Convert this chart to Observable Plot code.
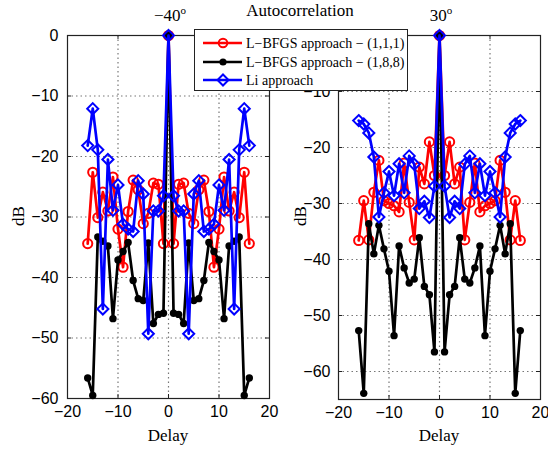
<!DOCTYPE html>
<html>
<head>
<meta charset="utf-8">
<script src="https://cdn.jsdelivr.net/npm/d3@7"></script>
<script src="https://cdn.jsdelivr.net/npm/@observablehq/plot@0.6"></script>
<style>
  html, body { margin: 0; padding: 0; background: #fff; }
  #wrap { position: relative; width: 548px; height: 455px; overflow: hidden; }
  .panel { position: absolute; top: 0; }
  .serif { font-family: "Liberation Serif", "Times New Roman", serif; color: #000; position: absolute; white-space: nowrap; }
  .title { font-size: 17px; left: 300px; top: 1px; transform: translateX(-50%); }
  .ptitle { font-size: 17px; top: 6px; transform: translateX(-50%); }
  .ptitle sup { font-size: 11px; vertical-align: 0; position: relative; top: -7px; }
  .xlabel { font-size: 17px; top: 426px; transform: translateX(-50%); }
  .ylabel { font-size: 17px; top: 216px; transform: translate(-50%, -50%) rotate(-90deg); }
  #legend { position: absolute; left: 194px; top: 29px; }
</style>
</head>
<body>
<div id="wrap">
  <div class="serif title">Autocorrelation</div>
</div>
<script>
// Delay axis (lags)
const delays = [-16,-15,-14,-13,-12,-11,-10,-9,-8,-7,-6,-5,-4,-3,-2,-1,0,1,2,3,4,5,6,7,8,9,10,11,12,13,14,15,16];

// Left panel: -40°
const leftRed   = [-34.4,-22.6,-30.1,-25.9,-29.0,-23.4,-32.0,-38.3,-29.1,-23.9,-25.5,-31.1,-29.4,-24.4,-24.6,-34.4,0,
                   -34.4,-24.6,-24.4,-29.4,-31.1,-25.5,-23.9,-29.1,-38.3,-32.0,-23.4,-29.0,-25.9,-30.1,-22.6,-34.4];
const leftBlack = [-56.6,-59.5,-33.3,-34.0,-34.8,-46.8,-37.1,-35.7,-34.2,-40.5,-43.5,-43.8,-34.3,-47.6,-46.1,-45.9,0,
                   -45.9,-46.1,-47.6,-34.3,-43.8,-43.5,-40.5,-34.2,-35.7,-37.1,-46.8,-34.8,-34.0,-33.3,-59.5,-56.6];
const leftBlue  = [-18.2,-12.1,-18.9,-45.2,-20.5,-28.9,-24.7,-31.2,-32.0,-32.4,-24.0,-26.2,-49.3,-29.0,-29.0,-26.5,0,
                   -26.5,-29.0,-29.0,-49.3,-26.2,-24.0,-32.4,-32.0,-31.2,-24.7,-28.9,-20.5,-45.2,-18.9,-12.1,-18.2];

// Right panel: 30°
const rightRed   = [-36.6,-29.5,-36.5,-28.0,-22.3,-29.5,-30.0,-30.4,-31.5,-22.8,-29.8,-36.5,-23.5,-26.5,-19.0,-25.0,0,
                    -25.0,-19.0,-26.5,-23.5,-36.5,-29.8,-22.8,-31.5,-30.4,-30.0,-29.5,-22.3,-28.0,-36.5,-29.5,-36.6];
const rightBlack = [-52.7,-63.9,-33.6,-39.0,-33.9,-38.1,-42.1,-53.6,-37.6,-41.5,-44.2,-43.5,-36.1,-44.8,-46.3,-56.5,0,
                    -56.5,-46.3,-44.8,-36.1,-43.5,-44.2,-41.5,-37.6,-53.6,-42.1,-38.1,-33.9,-39.0,-33.6,-63.9,-52.7];
const rightBlue  = [-15.2,-15.8,-17.4,-21.7,-32.4,-28.1,-24.3,-28.6,-22.9,-28.1,-21.5,-23.0,-30.9,-29.6,-32.5,-26.9,0,
                    -26.9,-32.5,-29.6,-30.9,-23.0,-21.5,-28.1,-22.9,-28.6,-24.3,-28.1,-32.4,-21.7,-17.4,-15.8,-15.2];

const xTicks = [-20,-10,0,10,20];
const leftYTicks = [-60,-50,-40,-30,-20,-10,0];
const rightYTicks = [-60,-50,-40,-30,-20,-10];
const panelTitles = [["−40","o"],["30","o"]];
const seriesNames = ["L−BFGS approach − (1,1,1)", "L−BFGS approach − (1,8,8)", "Li approach"];
const seriesColors = ["#ff0000", "#000000", "#0000ff"];

function rows(vals) { return delays.map((d, i) => ({delay: d, value: vals[i]})); }

function panel(red, black, blue, yDomain, yTicks, opts) {
  const r = rows(red), k = rows(black), b = rows(blue);
  const ys = yDomain[1] - yDomain[0];
  const innerX = xTicks.slice(1, -1);
  const innerY = yTicks.filter(t => t > yDomain[0] && t < yDomain[1]);
  return Plot.plot({
    width: 274, height: 455,
    marginLeft: opts.ml, marginRight: opts.mr, marginTop: 35, marginBottom: opts.mb,
    x: {domain: [-20, 20], ticks: xTicks},
    y: {domain: yDomain, ticks: yTicks},
    style: {fontFamily: "'Liberation Sans', Arial, sans-serif", fontSize: "16px", background: "transparent", overflow: "visible", color: "#000"},
    marks: [
      Plot.ruleX(innerX, {x: d => d, stroke: "#777", strokeWidth: 1.2, strokeDasharray: "1.5,3"}),
      Plot.ruleY(innerY, {y: d => d, stroke: "#777", strokeWidth: 1.2, strokeDasharray: "1.5,3"}),
      Plot.frame({stroke: "#222", strokeWidth: 1.2}),
      Plot.ruleX(innerX, {x: d => d, y1: yDomain[0], y2: yDomain[0] + ys * 0.011, stroke: "#222"}),
      Plot.ruleX(innerX, {x: d => d, y1: yDomain[1], y2: yDomain[1] - ys * 0.011, stroke: "#222"}),
      Plot.ruleY(innerY, {y: d => d, x1: -20, x2: -20 + 40 * 0.02, stroke: "#222"}),
      Plot.ruleY(innerY, {y: d => d, x1: 20, x2: 20 - 40 * 0.02, stroke: "#222"}),
      Plot.axisX({ticks: xTicks, tickSize: 0, tickPadding: 7, label: null}),
      Plot.axisY({ticks: yTicks, tickSize: 0, tickPadding: opts.ypad, label: null}),
      Plot.line(r, {x: "delay", y: "value", stroke: seriesColors[0], strokeWidth: 2.7}),
      Plot.dot(r, {x: "delay", y: "value", r: 4.6, stroke: seriesColors[0], strokeWidth: 2, fill: "none"}),
      Plot.line(k, {x: "delay", y: "value", stroke: seriesColors[1], strokeWidth: 2.7}),
      Plot.dot(k, {x: "delay", y: "value", r: 3.7, fill: seriesColors[1], stroke: "none"}),
      Plot.line(b, {x: "delay", y: "value", stroke: seriesColors[2], strokeWidth: 2.7}),
      Plot.dot(b, {x: "delay", y: "value", r: 5, symbol: "diamond2", stroke: seriesColors[2], strokeWidth: 2, fill: "none"})
    ]
  });
}

const wrap = document.getElementById("wrap");

const left = panel(leftRed, leftBlack, leftBlue, [-60, 0], leftYTicks, {ml: 67, mr: 5, mb: 57, ypad: 9});
left.classList.add("panel"); left.style.left = "0px";
wrap.appendChild(left);

const right = panel(rightRed, rightBlack, rightBlue, [-65, 0], rightYTicks, {ml: 64, mr: 8, mb: 56, ypad: 8});
right.classList.add("panel"); right.style.left = "274px";
wrap.appendChild(right);

// text labels
function addText(cls, html, x) {
  const el = document.createElement("div");
  el.className = "serif " + cls;
  el.innerHTML = html;
  el.style.left = x + "px";
  wrap.appendChild(el);
}
addText("ptitle", panelTitles[0][0] + "<sup>" + panelTitles[0][1] + "</sup>", 170);
addText("ptitle", panelTitles[1][0] + "<sup>" + panelTitles[1][1] + "</sup>", 441);
addText("xlabel", "Delay", 168);
addText("xlabel", "Delay", 439);
addText("ylabel", "dB", 19);
addText("ylabel", "dB", 301);

// legend
const lw = 214, lh = 62;
const svg = d3.select(wrap).append("svg").attr("id", "legend").attr("width", lw).attr("height", lh);
svg.append("rect").attr("x", 0.5).attr("y", 0.5).attr("width", lw - 1).attr("height", lh - 1)
  .attr("fill", "#fff").attr("stroke", "#222").attr("stroke-width", 1);
const rowY = [14, 33, 51];
seriesNames.forEach((name, i) => {
  const g = svg.append("g").attr("transform", `translate(0,${rowY[i]})`);
  g.append("line").attr("x1", 9).attr("x2", 48).attr("y1", 0).attr("y2", 0)
    .attr("stroke", seriesColors[i]).attr("stroke-width", 2.6);
  if (i === 0) g.append("circle").attr("cx", 29).attr("cy", 0).attr("r", 4.3).attr("fill", "none").attr("stroke", seriesColors[i]).attr("stroke-width", 2);
  if (i === 1) g.append("circle").attr("cx", 29).attr("cy", 0).attr("r", 3.6).attr("fill", seriesColors[i]);
  if (i === 2) g.append("path").attr("d", "M29,-5.5L34.5,0L29,5.5L23.5,0Z").attr("fill", "none").attr("stroke", seriesColors[i]).attr("stroke-width", 2);
  g.append("text").attr("x", 52).attr("y", 0).attr("dy", "0.35em")
    .attr("font-family", "'Liberation Serif', 'Times New Roman', serif").attr("font-size", 14)
    .attr("fill", "#000").text(name);
});
</script>
</body>
</html>
